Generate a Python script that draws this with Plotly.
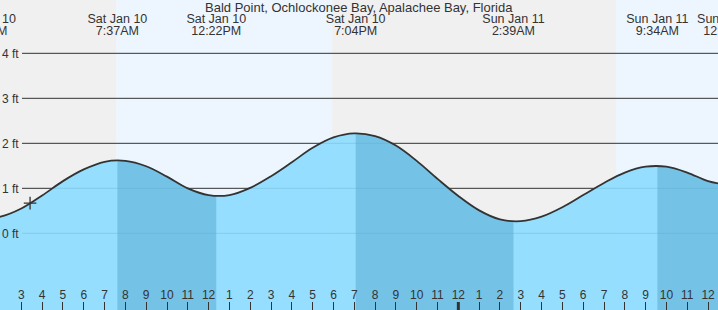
import plotly.graph_objects as go

# ---------------- data ----------------
hours = list(range(1, 38))  # hours since Sat Jan 10 00:00
heights = [0.335, 0.37, 0.55, 0.84, 1.16, 1.42, 1.59, 1.61, 1.49, 1.26,
           1.00, 0.85, 0.85, 1.01, 1.27, 1.58, 1.90, 2.13, 2.22, 2.16,
           1.95, 1.61, 1.21, 0.83, 0.51, 0.31, 0.27, 0.37, 0.58, 0.85,
           1.12, 1.35, 1.48, 1.48, 1.35, 1.16, 1.07]

event_times = [1.30, 7.617, 12.367, 19.067, 26.65, 33.567, 36.97]
event_dates = ["Sat Jan 10", "Sat Jan 10", "Sat Jan 10", "Sat Jan 10",
               "Sun Jan 11", "Sun Jan 11", "Sun Jan 11"]
event_clock = ["1:18AM", "7:37AM", "12:22PM", "7:04PM", "2:39AM", "9:34AM", "12:58PM"]

high_times = [7.617, 19.067, 33.567]
low_times = [12.367, 26.65, 36.97]

sunrise_times = [7.56, 31.58]
sunset_times = [17.94, 41.90]

now_time = [3.42]
now_height = [0.67]

hour_ticks = list(range(2, 37))
hour_labels = ["2", "3", "4", "5", "6", "7", "8", "9", "10", "11", "12",
               "1", "2", "3", "4", "5", "6", "7", "8", "9", "10", "11", "12",
               "1", "2", "3", "4", "5", "6", "7", "8", "9", "10", "11", "12"]
midnight = [24]

ft_vals = [0, 1, 2, 3, 4]
ft_labels = ["0 ft", "1 ft", "2 ft", "3 ft", "4 ft"]

title = "Bald Point, Ochlockonee Bay, Apalachee Bay, Florida"

# ---------------- style ----------------
W, H = 718, 310
X0, X1 = 1.975, 36.478
Y0, Y1 = -1.704, 5.185
FONT = "Liberation Sans, Arial, sans-serif"
TXT = "#333333"
NIGHT = "#f0f0f0"
DAY = "#edf6fe"
LIGHT = "rgba(140,219,255,0.9)"
DARK = "rgba(82,165,205,0.5)"
LABEL_Y_DATE = 4.74
LABEL_Y_TIME = 4.473

fig = go.Figure()

# light water (main subplot)
fig.add_trace(go.Scatter(x=[X0 - 3, X1 + 3], y=[Y0 - 1, Y0 - 1], mode="lines",
                         line=dict(width=0), hoverinfo="skip", showlegend=False,
                         xaxis="x", yaxis="y"))
fig.add_trace(go.Scatter(x=hours, y=heights, mode="lines",
                         line=dict(width=0, shape="spline", color="rgba(0,0,0,0)"),
                         fill="tonexty", fillcolor=LIGHT, hoverinfo="skip",
                         showlegend=False, xaxis="x", yaxis="y"))

layout_axes = {}
span = X1 - X0
# darker water during falling tide, each on its own clipped x-axis
for i, (a, b) in enumerate(zip(high_times, low_times)):
    n = i + 2
    b2 = min(b, X1)
    layout_axes[f"xaxis{n}"] = dict(domain=[(a - X0) / span, (b2 - X0) / span],
                                    range=[a, b2], anchor="y", visible=False,
                                    showgrid=False, zeroline=False)
    fig.add_trace(go.Scatter(x=[X0 - 3, X1 + 3], y=[Y0 - 1, Y0 - 1], mode="lines",
                             line=dict(width=0), hoverinfo="skip", showlegend=False,
                             xaxis=f"x{n}", yaxis="y"))
    fig.add_trace(go.Scatter(x=hours, y=heights, mode="lines",
                             line=dict(width=0, shape="spline", color="rgba(0,0,0,0)"),
                             fill="tonexty", fillcolor=DARK, hoverinfo="skip",
                             showlegend=False, xaxis=f"x{n}", yaxis="y"))

TOPN = len(high_times) + 2
TOP = f"x{TOPN}"

# curve line, now marker, labels on top subplot
fig.add_trace(go.Scatter(x=hours, y=heights, mode="lines",
                         line=dict(width=1.8, shape="spline", color="#333333"),
                         hoverinfo="skip", showlegend=False, xaxis=TOP, yaxis="y"))
fig.add_trace(go.Scatter(x=now_time, y=now_height, mode="markers",
                         marker=dict(symbol="cross-thin", size=9,
                                     line=dict(width=1.3, color="#333333")),
                         hoverinfo="skip", showlegend=False, xaxis=TOP, yaxis="y"))
fig.add_trace(go.Scatter(x=event_times, y=[LABEL_Y_DATE] * len(event_times), mode="text",
                         text=event_dates, textposition="middle center",
                         textfont=dict(family=FONT, size=12.5, color=TXT),
                         hoverinfo="skip", showlegend=False, xaxis=TOP, yaxis="y"))
fig.add_trace(go.Scatter(x=event_times, y=[LABEL_Y_TIME] * len(event_times), mode="text",
                         text=event_clock, textposition="middle center",
                         textfont=dict(family=FONT, size=12.5, color=TXT),
                         hoverinfo="skip", showlegend=False, xaxis=TOP, yaxis="y"))

shapes = []
# night / day backgrounds
night_starts = [X0 - 3] + sunset_times[:-1]
night_ends = sunrise_times
for a, b in zip(night_starts, night_ends):
    shapes.append(dict(type="rect", xref="x", yref="y domain", x0=a, x1=b, y0=0, y1=1,
                       fillcolor=NIGHT, line=dict(width=0), layer="below"))
for a, b in zip(sunrise_times, sunset_times):
    shapes.append(dict(type="rect", xref="x", yref="y domain", x0=a, x1=b, y0=0, y1=1,
                       fillcolor=DAY, line=dict(width=0), layer="below"))
# horizontal grid lines (start after the label)
for v in ft_vals:
    shapes.append(dict(type="line", xref="x domain", yref="y", x0=22 / W, x1=1, y0=v, y1=v,
                       line=dict(color="#333333", width=1), layer="below"))
# midnight tick
for m in midnight:
    shapes.append(dict(type="line", xref=TOP, yref="paper", x0=m, x1=m, y0=0, y1=8 / H,
                       line=dict(color="#333333", width=3), layer="above"))

layout_axes["xaxis"] = dict(domain=[0, 1], range=[X0, X1], anchor="y", visible=False,
                            showgrid=False, zeroline=False)
layout_axes[f"xaxis{TOPN}"] = dict(domain=[0, 1], range=[X0, X1], anchor="y",
                                   tickmode="array", tickvals=hour_ticks, ticktext=hour_labels,
                                   ticks="inside", ticklen=8, tickwidth=1, tickcolor="#333333",
                                   ticklabelposition="inside",
                                   tickfont=dict(family=FONT, size=12, color=TXT),
                                   showgrid=False, zeroline=False, showline=False)
layout_axes["yaxis"] = dict(domain=[0, 1], range=[Y0, Y1], anchor="x",
                            tickmode="array", tickvals=ft_vals, ticktext=ft_labels,
                            ticks="", ticklabelposition="inside", ticklabelstandoff=-1,
                            tickfont=dict(family=FONT, size=12, color=TXT),
                            showgrid=False, zeroline=False, showline=False)

fig.update_layout(
    width=W, height=H, autosize=False,
    margin=dict(l=0, r=0, t=0, b=0, pad=0),
    paper_bgcolor=NIGHT, plot_bgcolor="rgba(0,0,0,0)",
    shapes=shapes,
    annotations=[dict(text=title, xref="paper", yref="paper", x=0.5, y=1 - 8 / H,
                      xanchor="center", yanchor="middle", showarrow=False,
                      font=dict(family=FONT, size=13, color=TXT))],
    **layout_axes,
)

fig.write_html("out.html")
